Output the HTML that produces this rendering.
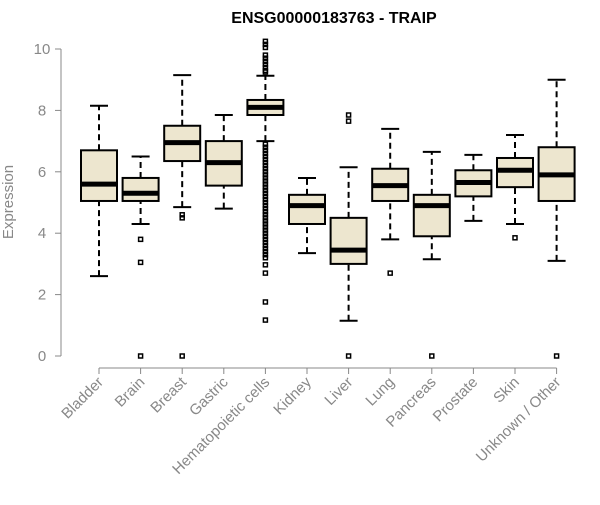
<!DOCTYPE html>
<html><head><meta charset="utf-8"><style>
body{margin:0;background:#fff;}
svg{font-family:"Liberation Sans",sans-serif;}
</style></head><body>
<svg id="chart" width="600" height="500">
<text x="334" y="23" text-anchor="middle" font-size="16" font-weight="bold">ENSG00000183763 - TRAIP</text>
<text transform="translate(13,202) rotate(-90)" text-anchor="middle" font-size="15" fill="#888">Expression</text>
<g id="plot"></g>
</svg>
<script>
const categories=["Bladder","Brain","Breast","Gastric","Hematopoietic cells","Kidney","Liver","Lung","Pancreas","Prostate","Skin","Unknown / Other"];
const whiskerLow=[2.6,4.3,4.85,4.8,7.0,3.35,1.15,3.8,3.15,4.4,4.3,3.1];
const q1=[5.05,5.05,6.35,5.55,7.85,4.3,3.0,5.05,3.9,5.2,5.5,5.05];
const medians=[5.6,5.3,6.95,6.3,8.1,4.9,3.45,5.55,4.9,5.65,6.05,5.9];
const q3=[6.7,5.8,7.5,7.0,8.34,5.25,4.5,6.1,5.25,6.05,6.45,6.8];
const whiskerHigh=[8.15,6.5,9.15,7.85,9.13,5.8,6.15,7.4,6.65,6.55,7.2,9.0];
const outliers=[[],[3.8,3.05,0],[4.6,4.5,0],[],
[10.25,10.15,10.05,9.8,9.7,9.6,9.5,9.4,9.3,9.25,6.9,6.8,6.7,6.6,6.5,6.4,6.3,6.2,6.1,6.0,5.9,5.8,5.7,5.6,5.5,5.4,5.3,5.2,5.1,5.0,4.9,4.8,4.7,4.6,4.5,4.4,4.3,4.2,4.1,4.0,3.9,3.8,3.7,3.6,3.5,3.4,3.3,3.2,2.97,2.7,1.76,1.17],
[],[7.85,7.65,0],[2.7],[0],[],[3.85],[0]];
const yTicks=[0,2,4,6,8,10];
const ns="http://www.w3.org/2000/svg";
const g=document.getElementById('plot');
const y=v=>356-v*30.7;
const x=i=>99+i*41.6;
function mk(t,a){const e=document.createElementNS(ns,t);for(const k in a)e.setAttribute(k,a[k]);g.appendChild(e);return e;}
let ax=mk('line',{x1:61,x2:61,y1:y(0),y2:y(10),stroke:'#888'});


yTicks.forEach(v=>{
 const t=mk('line',{x1:55,x2:61,y1:y(v),y2:y(v),stroke:'#888'});
 
 
 const l=mk('text',{x:42,y:y(v)+5,'text-anchor':'middle','font-size':15,fill:'#888'});
 l.textContent=v;
 
 
});
let xa=mk('line',{x1:x(0),x2:x(11),y1:368,y2:368,stroke:'#888'});


categories.forEach((c,i)=>{
 const cx=x(i),w=18;
 const tk=mk('line',{x1:cx,x2:cx,y1:368,y2:374,stroke:'#888'});
 
 
 const l=mk('text',{x:cx+5,y:383,'text-anchor':'end','font-size':15,fill:'#888',transform:`rotate(-45 ${cx+5} 383)`});
 l.textContent=c;
 
 
 const wl=mk('line',{x1:cx,x2:cx,y1:y(whiskerLow[i]),y2:y(q1[i]),stroke:'#000','stroke-width':2,'stroke-dasharray':'6,4'});
 
 
 const wh=mk('line',{x1:cx,x2:cx,y1:y(q3[i]),y2:y(whiskerHigh[i]),stroke:'#000','stroke-width':2,'stroke-dasharray':'6,4'});
 
 
 [whiskerLow[i],whiskerHigh[i]].forEach(v=>{
  const cap=mk('line',{x1:cx-9,x2:cx+9,y1:y(v),y2:y(v),stroke:'#000','stroke-width':2});
  
  
 });
 const b=mk('rect',{x:cx-w,y:y(q3[i]),width:2*w,height:y(q1[i])-y(q3[i]),fill:'#ede6cf',stroke:'#000','stroke-width':2});
 
 
 const m=mk('line',{x1:cx-w,x2:cx+w,y1:y(medians[i]),y2:y(medians[i]),stroke:'#000','stroke-width':5});
 
 
 outliers[i].forEach(v=>{
  const o=mk('rect',{x:cx-2,y:y(v)-2,width:4,height:4,fill:'none',stroke:'#000','stroke-width':1.5});
  
  
 });
});
</script>
</body></html>
